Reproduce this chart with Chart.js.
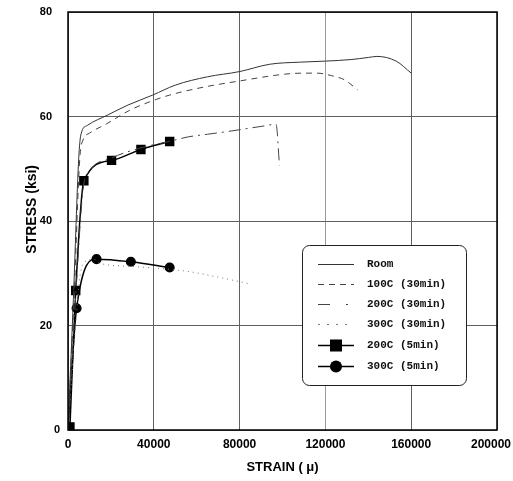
<!DOCTYPE html>
<html>
<head>
<meta charset="utf-8">
<script src="https://cdn.jsdelivr.net/npm/chart.js@4/dist/chart.umd.min.js"></script>
<style>
  html, body { margin: 0; padding: 0; background: #fff; }
  #wrap { width: 513px; height: 481px; }
</style>
</head>
<body>
<div id="wrap"><canvas id="c" width="513" height="481"></canvas></div>
<script>
// ---- Data (strain in micro-strain, stress in ksi) ----
const seriesLabels = ["Room", "100C (30min)", "200C (30min)", "300C (30min)", "200C (5min)", "300C (5min)"];

const roomStrain   = [0, 2500, 5000, 6000, 9000, 18600, 28000, 39500, 50000, 65000, 80000, 94000, 108000, 120000, 132000, 140000, 144000, 153000, 160000];
const roomStress   = [0, 25, 52, 56.5, 58.3, 60.3, 62.2, 64.1, 66.0, 67.6, 68.6, 70.0, 70.4, 70.6, 70.9, 71.3, 71.5, 70.6, 68.3];

const c100Strain   = [0, 2800, 5500, 7000, 10000, 18000, 28800, 38000, 47400, 63000, 80000, 101000, 110000, 116000, 123000, 129000, 135000];
const c100Stress   = [0, 25, 52, 55.5, 56.8, 58.6, 61.2, 62.8, 64.1, 65.6, 66.8, 68.1, 68.3, 68.3, 67.8, 67.0, 65.1];

const c200Strain   = [0, 3800, 7000, 10000, 20000, 34000, 48000, 56000, 65000, 74000, 90000, 97000, 98600];
const c200Stress   = [0, 27, 46, 49.5, 52, 54, 55.3, 56.1, 56.6, 57.1, 58.1, 58.5, 50.6];

const c300Strain   = [0, 3500, 5600, 8700, 11700, 14900, 30000, 55000, 70700, 85400];
const c300Stress   = [0, 20, 29.5, 32.4, 32.7, 31.9, 31.3, 30.4, 29.2, 27.9];

const s200Strain   = [900, 3600, 7400, 20300, 34000, 47400];
const s200Stress   = [0.6, 26.7, 47.7, 51.6, 53.7, 55.2];

const s300Strain   = [0, 4000, 13300, 29300, 47400];
const s300Stress   = [0, 23.3, 32.7, 32.2, 31.1];

const xTicks = [0, 40000, 80000, 120000, 160000, 200000];
const yTicks = [0, 20, 40, 60, 80];

function pts(xs, ys) { return xs.map((x, i) => ({ x: x, y: ys[i] })); }

const datasets = [
  { label: seriesLabels[0], data: pts(roomStrain, roomStress), borderColor: '#333', borderWidth: 1, borderDash: [], pointRadius: 0, legendMarker: null },
  { label: seriesLabels[1], data: pts(c100Strain, c100Stress), borderColor: '#444', borderWidth: 1, borderDash: [6, 5], pointRadius: 0, legendMarker: null },
  { label: seriesLabels[2], data: pts(c200Strain, c200Stress), borderColor: '#444', borderWidth: 1, borderDash: [12, 5, 2, 5], pointRadius: 0, legendMarker: null, legendDash: [12, 16, 2, 20] },
  { label: seriesLabels[3], data: pts(c300Strain, c300Stress), borderColor: '#777', borderWidth: 1, borderDash: [1, 4], pointRadius: 0, legendMarker: null, legendDash: [2, 7] },
  { label: seriesLabels[4], data: pts(s200Strain, s200Stress), borderColor: '#000', borderWidth: 1.5, borderDash: [], pointStyle: 'rect', pointRadius: 5.6, backgroundColor: '#000', pointBorderColor: '#000', legendMarker: 'rect' },
  { label: seriesLabels[5], data: pts(s300Strain, s300Stress), borderColor: '#000', borderWidth: 1.5, borderDash: [], pointStyle: 'circle', pointRadius: (ctx) => ctx.dataIndex === 0 ? 0 : 4.3, backgroundColor: '#000', pointBorderColor: '#000', legendMarker: 'circle' }
];
datasets.forEach(d => { d.fill = false; d.cubicInterpolationMode = 'monotone'; d.pointHoverRadius = 0; });

const boxLegend = {
  id: 'boxLegend',
  afterDraw(chart) {
    const ctx = chart.ctx;
    const bx = 302, by = 245, bw = 164, bh = 140, r = 7;
    ctx.save();
    ctx.fillStyle = '#fff';
    ctx.strokeStyle = '#222';
    ctx.lineWidth = 1;
    ctx.setLineDash([]);
    ctx.beginPath();
    ctx.roundRect(bx + 0.5, by + 0.5, bw, bh, r);
    ctx.fill();
    ctx.stroke();
    const rowsY = [264, 284, 304, 324, 345, 366];
    ctx.font = 'bold 11px "Liberation Mono", "DejaVu Sans Mono", monospace';
    ctx.textBaseline = 'middle';
    ctx.textAlign = 'left';
    chart.data.datasets.forEach((d, i) => {
      const y = rowsY[i] + 0.5;
      ctx.strokeStyle = d.borderColor;
      ctx.lineWidth = d.borderWidth;
      ctx.setLineDash(d.legendDash || d.borderDash || []);
      ctx.beginPath();
      ctx.moveTo(318, y);
      ctx.lineTo(354, y);
      ctx.stroke();
      ctx.setLineDash([]);
      ctx.fillStyle = '#000';
      if (d.legendMarker === 'rect') {
        ctx.fillRect(330, y - 6, 12, 12);
      } else if (d.legendMarker === 'circle') {
        ctx.beginPath();
        ctx.arc(336, y, 6, 0, Math.PI * 2);
        ctx.fill();
      }
      ctx.fillStyle = '#111';
      ctx.fillText(d.label, 367, y);
    });
    ctx.restore();
  }
};

const frame = {
  id: 'frame',
  afterDatasetsDraw(chart) {
    const a = chart.chartArea, ctx = chart.ctx;
    ctx.save();
    ctx.strokeStyle = '#000';
    ctx.lineWidth = 1.5;
    ctx.setLineDash([]);
    ctx.strokeRect(a.left, a.top, a.right - a.left, a.bottom - a.top);
    ctx.restore();
  }
};

// small nudges of individual tick labels to match the reference placement
const labelNudge = {
  id: 'labelNudge',
  beforeDraw(chart) {
    const xs = chart.scales.x.getLabelItems();
    if (xs.length && !xs._nudged) {
      xs[xs.length - 1].options.translation[0] -= 6;
      xs._nudged = true;
    }
    const ys = chart.scales.y.getLabelItems();
    if (ys.length && !ys._nudged) {
      ys[0].options.translation[0] += 8;
      ys._nudged = true;
    }
  }
};

new Chart(document.getElementById('c'), {
  type: 'line',
  data: { datasets: datasets },
  options: {
    responsive: false,
    animation: false,
    events: [],
    layout: { padding: { top: 12, right: 16, left: 0, bottom: 0 } },
    plugins: { legend: { display: false }, tooltip: { enabled: false } },
    scales: {
      x: {
        type: 'linear', min: 0, max: 200000,
        afterBuildTicks: (s) => { s.ticks = xTicks.map(v => ({ value: v })); },
        afterFit: (s) => { s.height = 51; s.paddingLeft = 0; s.paddingRight = 0; },
        grid: { color: (c) => (c.tick && c.tick.value === 120000) ? '#9a9a9a' : '#606060', lineWidth: 1, drawTicks: false },
        border: { display: false },
        ticks: { color: '#000', padding: 7, maxRotation: 0, autoSkip: false, font: { family: '"Liberation Sans", Arial, sans-serif', size: 12, weight: 'bold' }, callback: (v) => String(v) },
        title: { display: true, text: 'STRAIN ( \u03bc)', color: '#000', font: { family: '"Liberation Sans", Arial, sans-serif', size: 13, weight: 'bold' }, padding: { top: 0, bottom: 6 } }
      },
      y: {
        type: 'linear', min: 0, max: 80,
        afterBuildTicks: (s) => { s.ticks = yTicks.map(v => ({ value: v })); },
        afterFit: (s) => { s.width = 68; s.paddingTop = 0; s.paddingBottom = 0; },
        grid: { color: '#606060', lineWidth: 1, drawTicks: false },
        border: { display: false },
        ticks: { color: '#000', padding: 16, autoSkip: false, font: { family: '"Liberation Sans", Arial, sans-serif', size: 11, weight: 'bold' }, callback: (v) => String(v) },
        title: { display: true, text: '      STRESS (ksi)', color: '#000', font: { family: '"Liberation Sans", Arial, sans-serif', size: 14, weight: 'bold' }, padding: { top: 24, bottom: 0 } }
      }
    }
  },
  plugins: [labelNudge, frame, boxLegend]
});
</script>
</body>
</html>
